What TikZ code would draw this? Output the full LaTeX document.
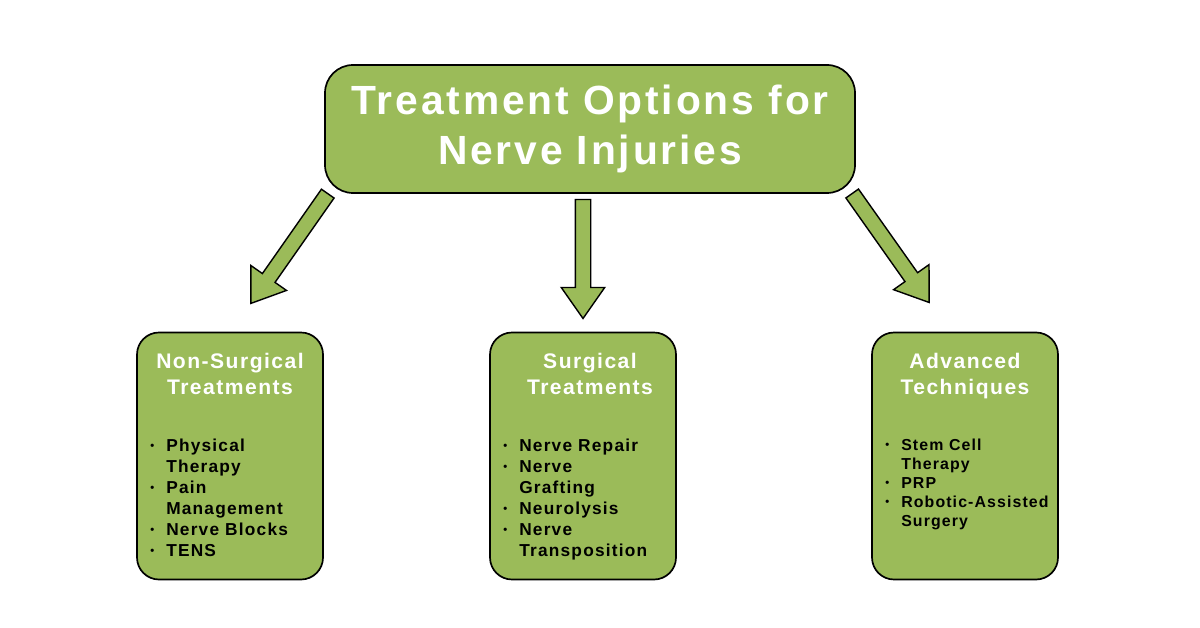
\documentclass[tikz,border=0pt]{standalone}
\usepackage{fontspec}
\setmainfont{Liberation Sans}
\usetikzlibrary{shapes.arrows,calc}
\definecolor{leaf}{RGB}{155,187,89}
\newfontfamily\spaced[LetterSpace=7]{Liberation Sans}
\newdimen\pxu \pxu=0.025cm
\newcommand{\bul}{\makebox[16\pxu][l]{\raisebox{0.2ex}{\footnotesize\textbullet}}}
\tikzset{
  box/.style={draw=black, line width=1.2pt, fill=leaf, rounded corners=22\pxu},
  head/.style={text=white, font=\spaced\bfseries\fontsize{15pt}{18.5pt}\selectfont, align=center, anchor=north},
  items/.style={font=\spaced\bfseries\fontsize{12.3pt}{15pt}\selectfont, anchor=north west, inner sep=0pt},
  fat/.style={draw=black, line width=1pt, fill=leaf, single arrow, single arrow head extend=14\pxu,
    single arrow head indent=0pt, inner xsep=0pt, inner ysep=7\pxu, single arrow tip angle=70}
}
\newcommand{\fatarrow}[2]{%
  \path let \p1=($(#2)-(#1)$), \n1={atan2(\y1,\x1)}, \n2={veclen(\x1,\y1)} in
    node[fat, minimum height=\n2, rotate=\n1] at ($(#1)!0.5!(#2)$) {};}
\begin{document}
\begin{tikzpicture}[x=0.025cm, y=-0.025cm]
  \useasboundingbox (0,0) rectangle (1200,628);
  % title
  \node[box, minimum width=530\pxu, minimum height=128\pxu, rounded corners=28\pxu,
    text=white, align=center, font=\spaced\bfseries\fontsize{29pt}{35.6pt}\selectfont]
    (title) at (590,129) {Treatment Options for\\Nerve Injuries};
  % three branches
  \node[box, minimum width=186\pxu, minimum height=247\pxu] (nonsurg) at (230,456) {};
  \node[box, minimum width=186\pxu, minimum height=247\pxu] (surg) at (583,456) {};
  \node[box, minimum width=186\pxu, minimum height=247\pxu] (adv) at (965,456) {};
  \node[head] (nonsurgh) at (230,348) {Non-Surgical\\Treatments};
  \node[head] (surgh) at (590,348) {Surgical\\Treatments};
  \node[head] (advh) at (965,348) {Advanced\\Techniques};
  \node[items] (nonsurgl) at (150,436) {\begin{tabular}{@{}l@{}l@{}}
    \bul & Physical\\ & Therapy\\ \bul & Pain\\ & Management\\ \bul & Nerve Blocks\\ \bul & TENS\end{tabular}};
  \node[items] (surgl) at (503,436) {\begin{tabular}{@{}l@{}l@{}}
    \bul & Nerve Repair\\ \bul & Nerve\\ & Grafting\\ \bul & Neurolysis\\ \bul & Nerve\\ & Transposition\end{tabular}};
  \node[items, font=\spaced\bfseries\fontsize{11.3pt}{13.5pt}\selectfont] (advl) at (885,437) {\begin{tabular}{@{}l@{}l@{}}
    \bul & Stem Cell\\ & Therapy\\ \bul & PRP\\ \bul & Robotic-Assisted\\ & Surgery\end{tabular}};
  % arrows
  \coordinate (a1) at (331,189); \coordinate (b1) at (254,299);
  \coordinate (a2) at (583,194); \coordinate (b2) at (583,313);
  \coordinate (a3) at (849,189); \coordinate (b3) at (926,298);
  \fatarrow{a1}{b1}
  \fatarrow{a2}{b2}
  \fatarrow{a3}{b3}
\end{tikzpicture}
\end{document}
